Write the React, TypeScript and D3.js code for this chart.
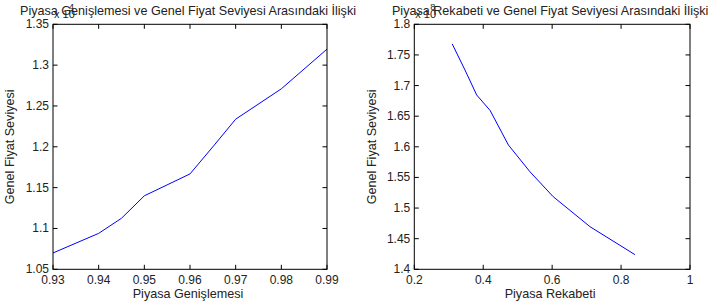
import React from "react";
import * as d3 from "d3";

const leftX = [0.93, 0.94, 0.945, 0.95, 0.96, 0.965, 0.97, 0.98, 0.99];
const leftY = [1.07, 1.094, 1.1125, 1.14, 1.1668, 1.2, 1.2338, 1.271, 1.3196];
const leftXTicks = [0.93, 0.94, 0.95, 0.96, 0.97, 0.98, 0.99];
const leftYTicks = [1.05, 1.1, 1.15, 1.2, 1.25, 1.3, 1.35];

const rightX = [0.31, 0.347, 0.381, 0.42, 0.473, 0.536, 0.603, 0.71, 0.84];
const rightY = [1.768, 1.7254, 1.6846, 1.6593, 1.603, 1.559, 1.5186, 1.4695, 1.424];
const rightXTicks = [0.2, 0.4, 0.6, 0.8, 1];
const rightYTicks = [1.4, 1.45, 1.5, 1.55, 1.6, 1.65, 1.7, 1.75, 1.8];

const FONT = "'Liberation Sans', Arial, Helvetica, sans-serif";

type PanelProps = {
  xs: number[];
  ys: number[];
  xDomain: [number, number];
  yDomain: [number, number];
  xTicks: number[];
  yTicks: number[];
  left: number;
  right: number;
  title: string;
  xLabel: string;
  yLabel: string;
  yLabelX: number;
  exponent: string;
  fmtX: (v: number) => string;
  fmtY: (v: number) => string;
};

function Panel(p: PanelProps) {
  const top = 24.3;
  const bottom = 269.3;
  const x = d3.scaleLinear().domain(p.xDomain).range([p.left, p.right]);
  const y = d3.scaleLinear().domain(p.yDomain).range([bottom, top]);
  const line = d3
    .line<number>()
    .x((_, i) => x(p.xs[i]))
    .y((d) => y(d));
  const tl = 4.5;
  const cx = (p.left + p.right) / 2;
  const cy = (top + bottom) / 2;
  return (
    <g fontFamily={FONT} fill="#000">
      <rect x={p.left} y={top} width={p.right - p.left} height={bottom - top} fill="#fff" stroke="none" />
      <path d={line(p.ys) || ""} fill="none" stroke="#0000ff" strokeWidth={1} />
      {p.xTicks.map((t) => (
        <g key={"x" + t}>
          <line x1={x(t)} x2={x(t)} y1={bottom} y2={bottom - tl} stroke="#000" strokeWidth={1} />
          <line x1={x(t)} x2={x(t)} y1={top} y2={top + tl} stroke="#000" strokeWidth={1} />
          <text x={x(t)} y={283.5} fontSize={12} textAnchor="middle" fill="#222">
            {p.fmtX(t)}
          </text>
        </g>
      ))}
      {p.yTicks.map((t) => (
        <g key={"y" + t}>
          <line x1={p.left} x2={p.left + tl} y1={y(t)} y2={y(t)} stroke="#000" strokeWidth={1} />
          <line x1={p.right} x2={p.right - tl} y1={y(t)} y2={y(t)} stroke="#000" strokeWidth={1} />
          <text x={p.left - 4} y={y(t) + 4} fontSize={12} textAnchor="end" fill="#222">
            {p.fmtY(t)}
          </text>
        </g>
      ))}
      <rect x={p.left} y={top} width={p.right - p.left} height={bottom - top} fill="none" stroke="#000" strokeWidth={1} />
      <text x={cx - 2} y={15} fontSize={12.6} textAnchor="middle" fill="#222">
        {p.title}
      </text>
      <text x={p.left + 1} y={18} fontSize={11} fill="#222">
        x 10
      </text>
      <text x={p.left + 16} y={10} fontSize={9} fill="#222">
        {p.exponent}
      </text>
      <text x={cx - 2} y={298} fontSize={12.6} textAnchor="middle" fill="#222">
        {p.xLabel}
      </text>
      <text
        x={p.yLabelX}
        y={cy}
        fontSize={12.6}
        textAnchor="middle"
        fill="#222"
        transform={`rotate(-90, ${p.yLabelX}, ${cy})`}
      >
        {p.yLabel}
      </text>
    </g>
  );
}

export default function App() {
  const f2 = d3.format(".2f");
  const fy = (v: number) => String(+v.toFixed(2));
  return (
    <svg width={710} height={306} style={{ position: "absolute", left: 0, top: 0 }}>
      <rect width={710} height={306} fill="#fff" />
      <Panel
        xs={leftX}
        ys={leftY}
        xDomain={[0.93, 0.99]}
        yDomain={[1.05, 1.35]}
        xTicks={leftXTicks}
        yTicks={leftYTicks}
        left={53}
        right={327}
        title="Piyasa Genişlemesi ve Genel Fiyat Seviyesi Arasındaki İlişki"
        xLabel="Piyasa Genişlemesi"
        yLabel="Genel Fiyat Seviyesi"
        yLabelX={14}
        exponent="4"
        fmtX={(v) => f2(v)}
        fmtY={fy}
      />
      <Panel
        xs={rightX}
        ys={rightY}
        xDomain={[0.2, 1]}
        yDomain={[1.4, 1.8]}
        xTicks={rightXTicks}
        yTicks={rightYTicks}
        left={414.3}
        right={690}
        title="Piyasa Rekabeti ve Genel Fiyat Seviyesi Arasındaki İlişki"
        xLabel="Piyasa Rekabeti"
        yLabel="Genel Fiyat Seviyesi"
        yLabelX={376}
        exponent="8"
        fmtX={(v) => String(+v.toFixed(1))}
        fmtY={fy}
      />
    </svg>
  );
}
